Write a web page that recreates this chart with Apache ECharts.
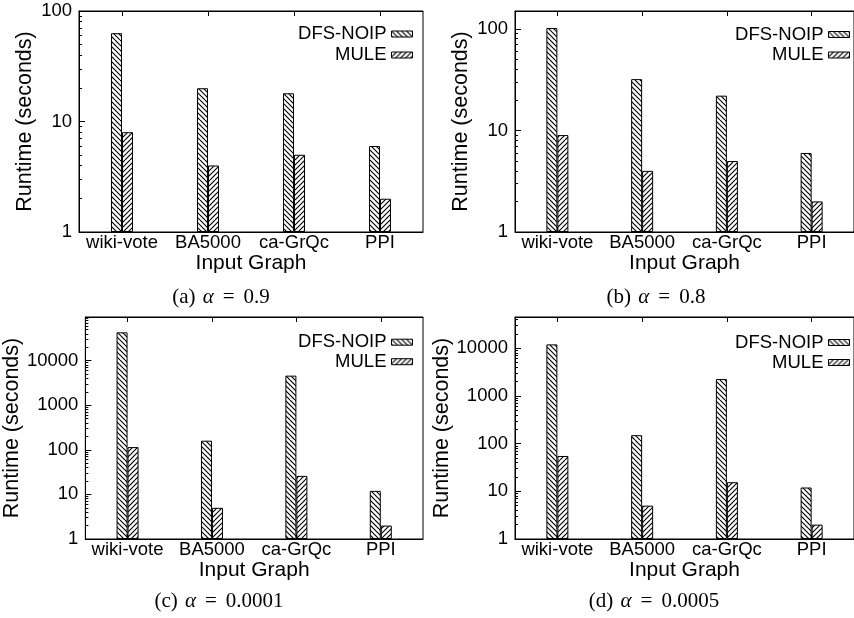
<!DOCTYPE html>
<html><head><meta charset="utf-8">
<script src="https://cdn.jsdelivr.net/npm/echarts@6/dist/echarts.min.js"></script>
<style>html,body{margin:0;padding:0;background:#fff}#c{width:854px;height:618px}</style>
</head><body><div id="c"></div>
<script>
// ---- data ----
const categories = ['wiki-vote', 'BA5000', 'ca-GrQc', 'PPI'];
const seriesNames = ['DFS-NOIP', 'MULE'];
const dfsA = [63, 20, 18, 6];
const muleA = [8, 4, 5, 2];
const dfsB = [102, 32, 22, 6];
const muleB = [9, 4, 5, 2];
const dfsC = [43000, 160, 4600, 12];
const muleC = [115, 5, 26, 2];
const dfsD = [12000, 150, 2250, 12];
const muleD = [55, 5, 15.5, 2];
const yMin = 1;
const yMaxes = [100, 150, 95000, 45000];
const captionLabels = ['(a)', '(b)', '(c)', '(d)'];
const alphaValues = ['0.9', '0.8', '0.0001', '0.0005'];
const yTitle = 'Runtime (seconds)';
const xTitle = 'Input Graph';

// ---- styling / layout ----
const SANS = '"Liberation Sans", Arial, sans-serif';
const SERIF = '"Liberation Serif", "Times New Roman", serif';
function hatch(dir) {
  const s = 20, step = 5;
  const c = document.createElement('canvas'); c.width = s; c.height = s;
  const g = c.getContext('2d');
  g.fillStyle = '#fff'; g.fillRect(0, 0, s, s);
  g.strokeStyle = '#000'; g.lineWidth = 1.1;
  g.beginPath();
  for (let k = -s; k <= 2 * s; k += step) {
    if (dir === 'back') { g.moveTo(k, 0); g.lineTo(k + s, s); }
    else { g.moveTo(k, s); g.lineTo(k + s, 0); }
  }
  g.stroke();
  return c;
}
const patDFS = { image: hatch('back'), repeat: 'repeat' };
const patMULE = { image: hatch('fwd'), repeat: 'repeat' };

const panels = [
  { left: 79, top: 11, width: 344, height: 221, dfs: dfsA, mule: muleA, nameGap: 43, legRight: 441, legTop: 24.5, legGap: 2, capX: 221, capY: 297 },
  { left: 515, top: 11, width: 345, height: 221, dfs: dfsB, mule: muleB, nameGap: 43, legRight: 4, legTop: 25, legGap: 1.5, capX: 656, capY: 297 },
  { left: 79, top: 317, width: 344, height: 222, dfs: dfsC, mule: muleC, nameGap: 54, legRight: 441, legTop: 332.7, legGap: 0.5, capX: 219, capY: 601 },
  { left: 515, top: 317, width: 345, height: 222, dfs: dfsD, mule: muleD, nameGap: 52, legRight: 4, legTop: 333, legGap: 1, capX: 654, capY: 601 }
];

const grid = [], xAxis = [], yAxis = [], series = [], legend = [], graphic = [];
panels.forEach((p, i) => {
  grid.push({ left: p.left, top: p.top, width: p.width, height: p.height, show: true, borderColor: '#000', borderWidth: 1, backgroundColor: 'transparent', containLabel: false });
  xAxis.push({
    type: 'category', gridIndex: i, data: categories, position: 'bottom',
    axisLine: { show: true, lineStyle: { color: '#000', width: 1 } },
    axisTick: { show: true, inside: true, alignWithLabel: true, length: 5, lineStyle: { color: '#000' } },
    axisLabel: { fontSize: 18.5, color: '#000', fontFamily: SANS, margin: 1, interval: 0 },
    name: xTitle, nameLocation: 'middle', nameGap: 18,
    nameTextStyle: { fontSize: 21, color: '#000', fontFamily: SANS }
  });
  xAxis.push({
    type: 'category', gridIndex: i, data: categories, position: 'top',
    axisLine: { show: true, lineStyle: { color: '#000', width: 1 } },
    axisTick: { show: true, inside: true, alignWithLabel: true, length: 5, lineStyle: { color: '#000' } },
    axisLabel: { show: false }
  });
  yAxis.push({
    type: 'log', logBase: 10, gridIndex: i, min: yMin, max: yMaxes[i],
    axisLine: { show: true, lineStyle: { color: '#000', width: 1 } },
    axisTick: { show: true, inside: true, length: 6, lineStyle: { color: '#000' } },
    minorTick: { show: true, splitNumber: 9, length: 3, lineStyle: { color: '#000' } },
    splitLine: { show: false },
    axisLabel: { fontSize: 18.5, color: '#000', fontFamily: SANS, margin: 7, showMaxLabel: i === 0,
      formatter: v => String(Math.round(v)) },
    name: yTitle, nameLocation: 'middle', nameGap: p.nameGap,
    nameTextStyle: { fontSize: 21.5, color: '#000', fontFamily: SANS }
  });
  series.push({
    type: 'bar', name: seriesNames[0], xAxisIndex: 2 * i, yAxisIndex: i, data: p.dfs,
    barWidth: 11, barGap: '0%',
    itemStyle: { color: patDFS, borderColor: '#000', borderWidth: 1 }
  });
  series.push({
    type: 'bar', name: seriesNames[1], xAxisIndex: 2 * i, yAxisIndex: i, data: p.mule,
    barWidth: 11, barGap: '0%',
    itemStyle: { color: patMULE, borderColor: '#000', borderWidth: 1 }
  });
  legend.push({
    data: seriesNames, orient: 'vertical', align: 'right', right: p.legRight, top: p.legTop,
    itemWidth: 21, itemHeight: 6, itemGap: p.legGap, icon: 'rect', selectedMode: false,
    padding: 0,
    itemStyle: { borderColor: '#000', borderWidth: 1 },
    textStyle: { fontSize: 18.5, color: '#000', fontFamily: SANS, lineHeight: 14 }
  });
  graphic.push({
    type: 'text', x: p.capX, y: p.capY, silent: true,
    style: {
      text: captionLabels[i] + '{sp| }{it|α}{eq|=}' + alphaValues[i],
      fontSize: 21, fontFamily: SERIF, fill: '#000', align: 'center', verticalAlign: 'middle',
      rich: {
        sp: { fontSize: 21, fontFamily: SERIF, padding: [0, 1] },
        it: { fontSize: 21, fontFamily: SERIF, fontStyle: 'italic', fill: '#000' },
        eq: { fontSize: 21, fontFamily: SERIF, fill: '#000', padding: [0, 9] }
      }
    }
  });
});

const chart = echarts.init(document.getElementById('c'), null, { renderer: 'canvas' });
chart.setOption({
  animation: false,
  backgroundColor: '#fff',
  grid, xAxis, yAxis, series, legend, graphic
});
</script>
</body></html>
